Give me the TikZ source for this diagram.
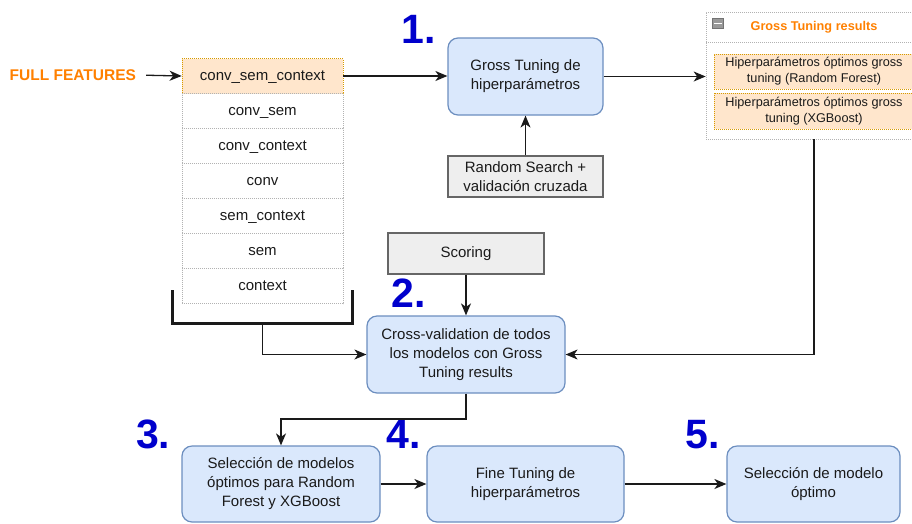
\documentclass[tikz,border=0pt]{standalone}
\usepackage{fontspec}
\setmainfont{Liberation Sans}
\usetikzlibrary{arrows.meta}
\definecolor{bfill}{HTML}{DAE8FC}
\definecolor{bdraw}{HTML}{6C8EBF}
\definecolor{ofill}{HTML}{FFE6CC}
\definecolor{odraw}{HTML}{D79B00}
\definecolor{otext}{HTML}{FF8000}
\definecolor{gfill}{HTML}{EEEEEE}
\definecolor{gdraw}{HTML}{666666}
\definecolor{numblue}{HTML}{0000CC}
\definecolor{txt}{HTML}{1A1A1A}
\tikzset{
  base/.style={inner sep=0pt, align=center, text=txt, font=\fontsize{15}{19}\selectfont},
  bluebox/.style={base, draw=bdraw, fill=bfill, line width=1.2pt, rounded corners=10pt,
     execute at begin node={\rule{0pt}{15pt}}},
  graybox/.style={base, draw=gdraw, fill=gfill, line width=1.4pt},
  rowbox/.style={base, draw=black!30, dash pattern=on 1pt off 1pt, line width=0.7pt,
     minimum width=161pt, minimum height=35pt, text height=11pt, text depth=3pt},
  orow/.style={rowbox, fill=ofill, draw=odraw},
  itembox/.style={base, draw=odraw, fill=ofill, dash pattern=on 1pt off 1pt, line width=0.7pt,
     minimum width=200pt, font=\fontsize{12.7}{15.8}\selectfont},
  numlbl/.style={inner sep=0pt, anchor=base west, text=numblue, font=\fontsize{41}{41}\selectfont\bfseries},
  conn/.style={line width=1.3pt, draw=txt, -{Stealth[length=12pt,width=10pt,inset=3.5pt]}},
}
\begin{document}
\begin{tikzpicture}[x=1pt,y=-1pt]
\useasboundingbox (0,0) rectangle (912,523);
\clip (0,0) rectangle (912,523);

% FULL FEATURES
\node[inner sep=0pt, anchor=west, text=otext, font=\fontsize{15.5}{18}\selectfont\bfseries] (ff) at (9.5,75) {FULL FEATURES};

% feature table
\node[orow] (r1) at (262.5,76) {conv\_sem\_context};
\node[rowbox] (r2) at (262.5,111) {conv\_sem};
\node[rowbox] (r3) at (262.5,146) {conv\_context};
\node[rowbox] (r4) at (262.5,181) {conv};
\node[rowbox] (r5) at (262.5,216) {sem\_context};
\node[rowbox] (r6) at (262.5,251) {sem};
\node[rowbox] (r7) at (262.5,286) {context};

% bracket
\draw[line width=3pt, txt] (172.5,290) -- (172.5,323) -- (352,323) -- (352,290);
\coordinate (brk) at (262.5,323);

% main boxes
\node[bluebox, minimum width=155pt, minimum height=77pt] (b1) at (525.5,76.5) {Gross Tuning de\\hiperparámetros};
\node[graybox, minimum width=155pt, minimum height=41pt] (rs) at (525.5,176.5) {Random Search +\\validación cruzada};
\node[graybox, minimum width=156pt, minimum height=41pt] (sc) at (466,253.5) {Scoring};
\node[bluebox, minimum width=198pt, minimum height=77pt] (b2) at (466,354.5) {Cross-validation de todos\\los modelos con Gross\\Tuning results};
\node[bluebox, minimum width=198pt, minimum height=76pt] (b3) at (281,484) {Selección de modelos\\óptimos para Random\\Forest y XGBoost};
\node[bluebox, minimum width=197pt, minimum height=76pt] (b4) at (525.5,484) {Fine Tuning de\\hiperparámetros};
\node[bluebox, minimum width=173pt, minimum height=76pt] (b5) at (813.5,484) {Selección de modelo\\óptimo};

% Gross tuning results container
\node[draw=black!30, dash pattern=on 1pt off 1pt, line width=0.7pt, minimum width=216pt, minimum height=127pt, inner sep=0pt] (gtr) at (814,75.5) {};
\draw[black!30, dash pattern=on 1pt off 1pt, line width=0.7pt] (706,42) -- (922,42);
\node[inner sep=0pt, text=otext, font=\fontsize{12.7}{15}\selectfont\bfseries] (gtt) at (814,27) {Gross Tuning results};
\node[draw=black!55, fill=black!40, minimum width=10.5pt, minimum height=10.5pt, inner sep=0pt, line width=0.7pt] (ico) at (718,23.5) {};
\draw[white, line width=1.5pt] ([xshift=2pt]ico.west) -- ([xshift=-2pt]ico.east);
\node[itembox, minimum height=35pt] (i1) at (814,71.5) {Hiperparámetros óptimos gross\\tuning (Random Forest)};
\node[itembox, minimum height=36pt] (i2) at (814,111) {Hiperparámetros óptimos gross\\tuning (XGBoost)};

% numbers
\node[numlbl] (n1) at (401,43) {1.};
\node[numlbl] (n2) at (391,307.5) {2.};
\node[numlbl] (n3) at (136,448) {3.};
\node[numlbl] (n4) at (386,448) {4.};
\node[numlbl] (n5) at (685,448) {5.};

% connectors
\draw[conn, shorten <=10pt] (ff.east) -- (r1.west);
\draw[conn] (r1.east) -- (r1.east -| b1.west);
\draw[conn] (rs.north) -- (b1.south);
\draw[conn] (b1.east) -- (b1.east -| gtr.west);
\draw[conn] (gtr.south) |- (b2.east);
\draw[conn] (sc.south) -- (b2.north);
\draw[conn] (brk) |- (b2.west);
\coordinate (k) at (466,419);
\draw[conn] (b2.south) -- (k) -| (b3.north);
\draw[conn] (b3.east) -- (b4.west);
\draw[conn] (b4.east) -- (b5.west);
\end{tikzpicture}
\end{document}
